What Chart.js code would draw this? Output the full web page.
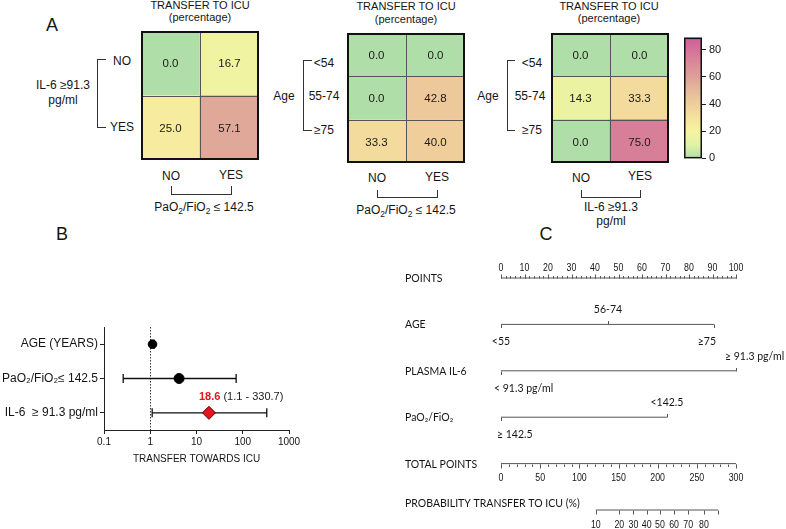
<!DOCTYPE html>
<html>
<head>
<meta charset="utf-8">
<title>Transfer to ICU</title>
<script src="https://cdn.jsdelivr.net/npm/chart.js@4.4.1/dist/chart.umd.min.js"></script>
<style>
  body { margin: 0; background: #fff; }
  #page { position: relative; width: 786px; height: 529px; overflow: hidden;
          font-family: 'Liberation Sans', Arial, sans-serif; color: #151515; }
  #page canvas { position: absolute; }
  .t { position: absolute; transform: translate(-50%, -50%); white-space: nowrap;
       font-size: 12px; line-height: 1; }
  .s { font-size: 11px; }
  .br { position: absolute; box-sizing: border-box; border: 0 solid #333; }
  .panel { font-size: 18px; }
  sub { font-size: 70%; vertical-align: -3px; line-height: 0; }
</style>
</head>
<body>
<div id="page">
  <!-- panel A -->
  <div class="t panel" style="left:52px;top:25px">A</div>

  <div class="t s" style="left:200px;top:5px">TRANSFER TO ICU</div>
  <div class="t s" style="left:200px;top:17px">(percentage)</div>
  <div class="t" style="left:122px;top:61px">NO</div>
  <div class="t" style="left:122px;top:127px">YES</div>
  <div class="t" style="left:63px;top:85px">IL-6 ≥91.3</div>
  <div class="t" style="left:63px;top:100px">pg/ml</div>
  <div class="br" style="left:97px;top:59px;width:9px;height:69px;border-width:1px 0 1px 1px"></div>
  <div class="t" style="left:171px;top:176px">NO</div>
  <div class="t" style="left:231px;top:175px">YES</div>
  <div class="br" style="left:171px;top:186px;width:61px;height:9px;border-width:0 1px 1px 1px"></div>
  <div class="t" style="left:204px;top:207px">PaO<sub>2</sub>/FiO<sub>2</sub> ≤ 142.5</div>
  <canvas id="hm1" width="118" height="129" style="left:141px;top:31px"></canvas>

  <div class="t s" style="left:406px;top:6px">TRANSFER TO ICU</div>
  <div class="t s" style="left:406px;top:19px">(percentage)</div>
  <div class="t" style="left:324px;top:63px">&lt;54</div>
  <div class="t" style="left:324px;top:96px">55-74</div>
  <div class="t" style="left:324px;top:130px">≥75</div>
  <div class="t" style="left:284px;top:96px">Age</div>
  <div class="br" style="left:303px;top:60px;width:9px;height:71px;border-width:1px 0 1px 1px"></div>
  <div class="t" style="left:377px;top:178px">NO</div>
  <div class="t" style="left:437px;top:177px">YES</div>
  <div class="br" style="left:377px;top:190px;width:61px;height:8px;border-width:0 1px 1px 1px"></div>
  <div class="t" style="left:406px;top:210px">PaO<sub>2</sub>/FiO<sub>2</sub> ≤ 142.5</div>
  <canvas id="hm2" width="118" height="130" style="left:347px;top:33px"></canvas>

  <div class="t s" style="left:609px;top:6px">TRANSFER TO ICU</div>
  <div class="t s" style="left:609px;top:18px">(percentage)</div>
  <div class="t" style="left:532px;top:63px">&lt;54</div>
  <div class="t" style="left:530px;top:96px">55-74</div>
  <div class="t" style="left:532px;top:130px">≥75</div>
  <div class="t" style="left:488px;top:96px">Age</div>
  <div class="br" style="left:507px;top:60px;width:8px;height:71px;border-width:1px 0 1px 1px"></div>
  <div class="t" style="left:581px;top:178px">NO</div>
  <div class="t" style="left:640px;top:176px">YES</div>
  <div class="br" style="left:581px;top:190px;width:60px;height:8px;border-width:0 1px 1px 1px"></div>
  <div class="t" style="left:611px;top:207px">IL-6 ≥91.3</div>
  <div class="t" style="left:611px;top:221px">pg/ml</div>
  <canvas id="hm3" width="118" height="130" style="left:551px;top:33px"></canvas>

  <canvas id="cbar" width="60" height="140" style="left:680px;top:28px"></canvas>

  <!-- panel B -->
  <div class="t panel" style="left:62px;top:234px">B</div>
  <canvas id="forest" width="320" height="180" style="left:0px;top:300px"></canvas>

  <!-- panel C -->
  <div class="t panel" style="left:546px;top:234px">C</div>
  <canvas id="nomo" width="386" height="289" style="left:400px;top:240px"></canvas>
</div>

<script>
// ---- A: heatmaps (percentage transferred to ICU) ----
const hmCols = ['NO', 'YES'];
const il6Rows = ['NO', 'YES'];
const ageRows = ['<54', '55-74', '≥75'];
const icuByIl6Pafi = [[0.0, 16.7], [25.0, 57.1]];
const icuByAgePafi = [[0.0, 0.0], [0.0, 42.8], [33.3, 40.0]];
const icuByAgeIl6 = [[0.0, 0.0], [14.3, 33.3], [0.0, 75.0]];
const colorTicks = [0, 10, 20, 30, 40, 50, 60, 70, 80];
const colorMax = 89;

// ---- B: odds ratios ----
const forestLabels = ['AGE (YEARS)', 'PaO₂/FiO₂≤ 142.5', 'IL-6  ≥ 91.3 pg/ml'];
const forestOdds = [1.12, 4.2, 18.6];
const forestLow = [1.04, 0.26, 1.1];
const forestHigh = [1.22, 72, 330.7];
const forestTicks = [0.1, 1, 10, 100, 1000];

// ---- C: nomogram ----
const nomoRows = ['POINTS', 'AGE', 'PLASMA IL-6', 'PaO₂/FiO₂', 'TOTAL POINTS', 'PROBABILITY TRANSFER TO ICU (%)'];
const pointsTicks = [0, 10, 20, 30, 40, 50, 60, 70, 80, 90, 100];
const pointsMinorStep = 2;
const ageLevels = ['<55', '56-74', '≥75'];
const agePoints = [0, 45.5, 90.6];
const il6Levels = ['< 91.3 pg/ml', '≥ 91.3 pg/ml'];
const il6Points = [0, 100];
const pafiLevels = ['≥ 142.5', '<142.5'];
const pafiPoints = [0, 70.6];
const totalTicks = [0, 50, 100, 150, 200, 250, 300];
const totalMinorStep = 10;
const probTicks = [10, 20, 30, 40, 50, 60, 70, 80];
const probAtTotal = [121, 151, 169, 186, 203, 221, 239, 259];
const probLineEnd = 277;

Chart.defaults.font.family = "'Liberation Sans', Arial, sans-serif";
Chart.defaults.color = '#151515';
Chart.defaults.animation = false;
Chart.defaults.events = [];
Chart.defaults.plugins.legend.display = false;
Chart.defaults.plugins.tooltip.enabled = false;

// colour scale green -> yellow -> orange -> pink
const heatStops = [
  [0, [176, 222, 168]], [10, [226, 242, 166]], [20, [246, 244, 160]],
  [30, [245, 226, 158]], [40, [239, 206, 155]], [50, [230, 186, 154]],
  [60, [222, 160, 152]], [70, [218, 138, 152]], [80, [212, 114, 154]],
  [89, [205, 95, 152]]
];
const rgb = c => `rgb(${c.map(Math.round).join(',')})`;
function heatColor(v) {
  for (let i = 1; i < heatStops.length; i++) {
    const [v1, c1] = heatStops[i];
    const [v0, c0] = heatStops[i - 1];
    if (v <= v1) {
      const f = (v - v0) / (v1 - v0);
      return rgb(c0.map((c, k) => c + (c1[k] - c) * f));
    }
  }
  return rgb(heatStops[heatStops.length - 1][1]);
}

const cellPlugin = {
  id: 'cells',
  afterDatasetsDraw(chart) {
    const { ctx, chartArea: a, scales: { x, y } } = chart;
    ctx.save();
    ctx.font = "11.5px 'Liberation Sans', Arial, sans-serif";
    ctx.fillStyle = '#1a1a1a';
    ctx.textAlign = 'center';
    ctx.textBaseline = 'middle';
    chart.data.datasets.forEach((ds, i) => {
      chart.getDatasetMeta(i).data.forEach((bar, j) => {
        ctx.fillText(ds.cellValues[j].toFixed(1), bar.x, (bar.y + bar.base) / 2 + 1);
      });
    });
    ctx.strokeStyle = '#555';
    ctx.lineWidth = 1;
    ctx.beginPath();
    const nCols = chart.data.labels.length;
    for (let j = 1; j < nCols; j++) {
      const px = Math.round((x.getPixelForValue(j - 1) + x.getPixelForValue(j)) / 2) + 0.5;
      ctx.moveTo(px, a.top); ctx.lineTo(px, a.bottom);
    }
    for (let k = 1; k < y.max; k++) {
      const py = Math.round(y.getPixelForValue(k)) + 0.5;
      ctx.moveTo(a.left, py); ctx.lineTo(a.right, py);
    }
    ctx.stroke();
    ctx.lineWidth = 2;
    ctx.strokeStyle = '#111';
    ctx.strokeRect(a.left + 1, a.top + 1, a.width - 2, a.height - 2);
    ctx.restore();
  }
};

function heatmap(id, rows, values) {
  const datasets = rows.map((r, i) => ({
    label: r,
    data: hmCols.map(() => 1),
    cellValues: values[i],
    backgroundColor: values[i].map(heatColor),
    borderWidth: 0,
    barPercentage: 1,
    categoryPercentage: 1
  })).reverse();
  new Chart(document.getElementById(id), {
    type: 'bar',
    data: { labels: hmCols, datasets },
    options: {
      responsive: false,
      layout: { padding: 0 },
      scales: {
        x: { stacked: true, display: false },
        y: { stacked: true, display: false, min: 0, max: rows.length }
      }
    },
    plugins: [cellPlugin]
  });
}
heatmap('hm1', il6Rows, icuByIl6Pafi);
heatmap('hm2', ageRows, icuByAgePafi);
heatmap('hm3', ageRows, icuByAgeIl6);

// colour bar
function barGradient(chart) {
  const { ctx, chartArea, scales } = chart;
  if (!chartArea) return heatColor(40);
  const y = scales.y;
  const g = ctx.createLinearGradient(0, y.getPixelForValue(0), 0, y.getPixelForValue(colorMax));
  heatStops.forEach(([v, c]) => g.addColorStop(Math.min(1, v / colorMax), rgb(c)));
  return g;
}
new Chart(document.getElementById('cbar'), {
  type: 'bar',
  data: {
    labels: [''],
    datasets: [{ data: [colorMax], backgroundColor: ctx => barGradient(ctx.chart),
                 borderWidth: 0, barPercentage: 1, categoryPercentage: 1 }]
  },
  options: {
    responsive: false,
    layout: { padding: { left: 4, top: 6, bottom: 5, right: 0 } },
    scales: {
      x: { display: false },
      y: {
        position: 'right', min: 0, max: colorMax,
        afterBuildTicks: s => { s.ticks = colorTicks.map(v => ({ value: v })); },
        ticks: { font: { size: 11 }, color: '#151515', padding: 3 },
        grid: { drawOnChartArea: false, tickLength: 4, color: '#222' },
        border: { display: false },
        afterFit: s => { s.width = 38; }
      }
    }
  },
  plugins: [{
    id: 'cbarFrame',
    afterDatasetsDraw(chart) {
      const { ctx, chartArea: a } = chart;
      ctx.save();
      ctx.strokeStyle = '#111';
      ctx.lineWidth = 1.5;
      ctx.strokeRect(a.left + 0.75, a.top + 0.75, a.width - 1.5, a.height - 1.5);
      ctx.restore();
    }
  }]
});

// ---- B ----
const forestPlugin = {
  id: 'forestMarks',
  beforeDatasetsDraw(chart) {
    const { ctx, chartArea: a, scales: { x, y } } = chart;
    ctx.save();
    const x1 = Math.round(x.getPixelForValue(1)) + 0.5;
    ctx.setLineDash([1.5, 1.5]);
    ctx.strokeStyle = '#333';
    ctx.lineWidth = 1;
    ctx.beginPath(); ctx.moveTo(x1, a.top); ctx.lineTo(x1, a.bottom); ctx.stroke();
    ctx.setLineDash([]);
    ctx.strokeStyle = '#111';
    ctx.lineWidth = 1.3;
    forestLabels.forEach((lab, i) => {
      const py = y.getPixelForValue(i);
      const lo = x.getPixelForValue(forestLow[i]);
      const hi = x.getPixelForValue(forestHigh[i]);
      ctx.beginPath();
      ctx.moveTo(lo, py); ctx.lineTo(hi, py);
      ctx.moveTo(lo, py - 4.5); ctx.lineTo(lo, py + 4.5);
      ctx.moveTo(hi, py - 4.5); ctx.lineTo(hi, py + 4.5);
      ctx.stroke();
    });
    ctx.restore();
  },
  afterDatasetsDraw(chart) {
    const { ctx } = chart;
    const i = 2;
    const pt = chart.getDatasetMeta(0).data[i];
    const head = forestOdds[i].toFixed(1);
    const tail = ` (${forestLow[i].toFixed(1)} - ${forestHigh[i].toFixed(1)})`;
    const x0 = pt.x - 10, y0 = pt.y - 16;
    ctx.save();
    ctx.textAlign = 'left';
    ctx.textBaseline = 'middle';
    ctx.font = "bold 11px 'Liberation Sans', Arial, sans-serif";
    ctx.fillStyle = '#e8141b';
    ctx.fillText(head, x0, y0);
    const w = ctx.measureText(head).width;
    ctx.font = "11px 'Liberation Sans', Arial, sans-serif";
    ctx.fillStyle = '#222';
    ctx.fillText(tail, x0 + w, y0);
    ctx.restore();
  }
};

new Chart(document.getElementById('forest'), {
  type: 'scatter',
  data: {
    datasets: [{
      data: forestLabels.map((l, i) => ({ x: forestOdds[i], y: l })),
      pointStyle: ['circle', 'circle', 'rectRot'],
      pointRadius: [4.3, 5, 6.5],
      backgroundColor: ['#000', '#000', '#e8141b'],
      borderColor: ['#000', '#000', '#4a0000'],
      borderWidth: 1,
      clip: false
    }]
  },
  options: {
    responsive: false,
    layout: { padding: { top: 27, right: 31, left: 0, bottom: 0 } },
    scales: {
      x: {
        type: 'logarithmic', min: 0.1, max: 1000,
        afterBuildTicks: s => { s.ticks = forestTicks.map(v => ({ value: v })); },
        ticks: { callback: v => String(v), font: { size: 10 }, color: '#151515',
                 padding: 2, autoSkip: false, maxRotation: 0 },
        grid: { drawOnChartArea: false, tickLength: 4, color: '#222' },
        border: { color: '#222' },
        title: { display: true, text: 'TRANSFER TOWARDS ICU', font: { size: 10 },
                 color: '#151515', padding: { top: 0, bottom: 15 } },
        afterFit: s => { s.height = 50; }
      },
      y: {
        type: 'category', labels: forestLabels, offset: true,
        ticks: { font: { size: 12 }, color: '#151515', padding: 2 },
        grid: { drawOnChartArea: false, tickLength: 4, color: '#222' },
        border: { color: '#222' },
        afterFit: s => { s.width = 104; }
      }
    }
  },
  plugins: [forestPlugin]
});

// ---- C ----
const nomoLine = '#555';
const numFont = "11px 'Liberation Sans', Arial, sans-serif";
const levelFont = "10.5px Lato, 'Noto Sans', sans-serif";
const rowFont = "10.5px Lato, 'Noto Sans', sans-serif";
// which side of the line each level label sits on, and its horizontal anchor
const levelRows = [
  { row: 1, levels: ageLevels, points: agePoints, side: [1, -1, 1], dx: [0, 0, -7], align: ['center', 'center', 'center'] },
  { row: 2, levels: il6Levels, points: il6Points, side: [1, -1], dx: [-7, -11], align: ['left', 'left'] },
  { row: 3, levels: pafiLevels, points: pafiPoints, side: [1, -1], dx: [-4, 0], align: ['left', 'center'] }
];

// condensed numbers, like the narrow face of the original
function narrowText(ctx, s, px, py) {
  ctx.save();
  ctx.translate(px, py);
  ctx.scale(0.8, 1);
  ctx.fillText(s, 0, 0);
  ctx.restore();
}

const nomoPlugin = {
  id: 'nomoRulers',
  afterDatasetsDraw(chart) {
    const { ctx, chartArea: a, scales: { x, xt, y } } = chart;
    const rowY = k => Math.round(y.getPixelForValue(k)) + 0.5;
    const tick = (px, py, len) => { ctx.moveTo(Math.round(px) + 0.5, py); ctx.lineTo(Math.round(px) + 0.5, py + len); };
    ctx.save();
    ctx.strokeStyle = nomoLine;
    ctx.lineWidth = 1;
    ctx.fillStyle = '#151515';
    ctx.textBaseline = 'middle';

    // row names
    ctx.font = rowFont;
    ctx.textAlign = 'left';
    nomoRows.forEach((name, k) => {
      ctx.fillText(name, a.left - 96, rowY(k) + (k === nomoRows.length - 1 ? -7 : 0));
    });

    // points ruler, ticks upward
    let py = rowY(0);
    ctx.beginPath();
    const pLast = pointsTicks[pointsTicks.length - 1];
    for (let v = pointsTicks[0]; v <= pLast; v += pointsMinorStep) tick(x.getPixelForValue(v), py, -2.5);
    pointsTicks.forEach(v => tick(x.getPixelForValue(v), py, -4));
    ctx.stroke();
    ctx.font = numFont;
    ctx.textAlign = 'center';
    pointsTicks.forEach(v => narrowText(ctx, String(v), x.getPixelForValue(v), py - 11));

    // categorical rows
    levelRows.forEach(r => {
      const ly = rowY(r.row);
      ctx.beginPath();
      r.points.forEach((p, i) => tick(x.getPixelForValue(p), ly, 3.5 * r.side[i]));
      ctx.stroke();
      ctx.font = levelFont;
      r.levels.forEach((lab, i) => {
        ctx.textAlign = r.align[i];
        ctx.fillText(lab, x.getPixelForValue(r.points[i]) + r.dx[i], ly + (r.side[i] > 0 ? 17 : -15));
      });
    });

    // total points ruler, ticks downward
    py = rowY(4);
    ctx.beginPath();
    const tLast = totalTicks[totalTicks.length - 1];
    for (let v = totalTicks[0]; v <= tLast; v += totalMinorStep) tick(xt.getPixelForValue(v), py, 2.5);
    totalTicks.forEach(v => tick(xt.getPixelForValue(v), py, 4));
    ctx.stroke();
    ctx.font = numFont;
    ctx.textAlign = 'center';
    totalTicks.forEach(v => narrowText(ctx, String(v), xt.getPixelForValue(v), py + 13));

    // probability ruler
    py = rowY(5);
    ctx.beginPath();
    probAtTotal.forEach(v => tick(xt.getPixelForValue(v), py, 4));
    tick(xt.getPixelForValue(probLineEnd), py, 4);
    ctx.stroke();
    probTicks.forEach((p, i) => narrowText(ctx, String(p), xt.getPixelForValue(probAtTotal[i]), py + 14));
    ctx.restore();
  }
};

const rowLine = (pts, row, axis) => ({
  data: pts.map(p => ({ x: p, y: nomoRows[row] })),
  xAxisID: axis || 'x',
  showLine: true,
  borderColor: nomoLine,
  borderWidth: 1,
  pointRadius: 0,
  clip: 2
});

new Chart(document.getElementById('nomo'), {
  type: 'scatter',
  data: {
    datasets: [
      rowLine([pointsTicks[0], pointsTicks[pointsTicks.length - 1]], 0),
      rowLine(agePoints, 1),
      rowLine(il6Points, 2),
      rowLine(pafiPoints, 3),
      rowLine([totalTicks[0], totalTicks[totalTicks.length - 1]], 4, 'xt'),
      rowLine([probAtTotal[0], probLineEnd], 5, 'xt')
    ]
  },
  options: {
    responsive: false,
    layout: { padding: { left: 101, top: 38, right: 50, bottom: 19 } },
    scales: {
      x: { type: 'linear', min: 0, max: 100, display: false },
      xt: { type: 'linear', min: 0, max: 300, display: false, position: 'bottom' },
      y: { type: 'category', labels: nomoRows, offset: false, display: false }
    }
  },
  plugins: [nomoPlugin]
});
</script>
</body>
</html>
